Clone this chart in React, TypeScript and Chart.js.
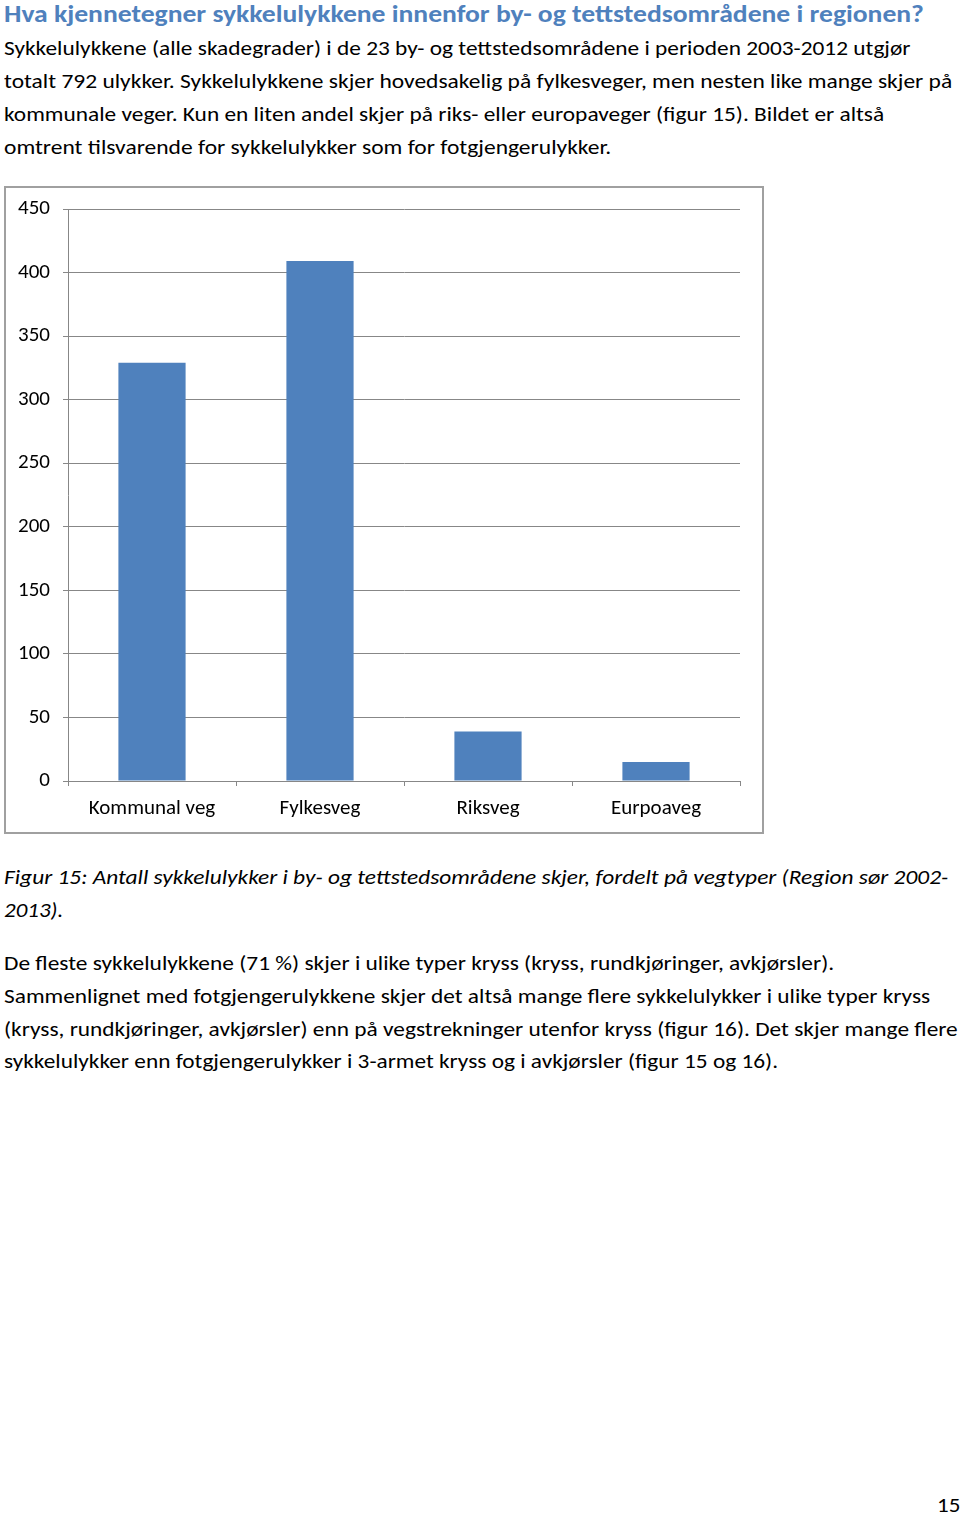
import React, { useEffect, useLayoutEffect, useRef, useState } from "react";
import { Chart, registerables } from "chart.js";

Chart.register(...registerables);

const categories = ["Kommunal veg", "Fylkesveg", "Riksveg", "Eurpoaveg"];
const accidents = [329, 409, 39, 15];
const yMax = 450;
const yStep = 50;

const heading = "Hva kjennetegner sykkelulykkene innenfor by- og tettstedsområdene i regionen?";
const introLines = [
  "Sykkelulykkene (alle skadegrader) i de 23 by- og tettstedsområdene i perioden 2003-2012 utgjør",
  "totalt 792 ulykker. Sykkelulykkene skjer hovedsakelig på fylkesveger, men nesten like mange skjer på",
  "kommunale veger. Kun en liten andel skjer på riks- eller europaveger (figur 15). Bildet er altså",
  "omtrent tilsvarende for sykkelulykker som for fotgjengerulykker.",
];
const captionLines = [
  "Figur 15: Antall sykkelulykker i by- og tettstedsområdene skjer, fordelt på vegtyper (Region sør 2002-",
  "2013).",
];
const paraLines = [
  "De fleste sykkelulykkene (71 %) skjer i ulike typer kryss (kryss, rundkjøringer, avkjørsler).",
  "Sammenlignet med fotgjengerulykkene skjer det altså mange flere sykkelulykker i ulike typer kryss",
  "(kryss, rundkjøringer, avkjørsler) enn på vegstrekninger utenfor kryss (figur 16). Det skjer mange flere",
  "sykkelulykker enn fotgjengerulykker i 3-armet kryss og i avkjørsler (figur 15 og 16).",
];
const pageNumber = "15";

const FONT = "Carlito, Lato, 'Liberation Sans', sans-serif";
const BLUE = "#4F81BD";
const GRID = "#878787";

type LineProps = {
  text: string;
  left: number;
  right: number;
  center: number;
  size: number;
  bold?: boolean;
  italic?: boolean;
  color?: string;
};

function FitLine({ text, left, right, center, size, bold, italic, color }: LineProps) {
  const ref = useRef<HTMLSpanElement>(null);
  const [sx, setSx] = useState(1);
  useLayoutEffect(() => {
    const el = ref.current;
    if (!el) return;
    const w = el.offsetWidth;
    if (w > 0) setSx((right - left) / w);
  }, [text, left, right, size]);
  const lh = 30;
  return (
    <span
      ref={ref}
      style={{
        position: "absolute",
        left,
        top: center - lh / 2,
        height: lh,
        lineHeight: lh + "px",
        fontSize: size,
        fontWeight: bold ? 700 : 400,
        fontStyle: italic ? "italic" : "normal",
        color: color || "#000",
        whiteSpace: "nowrap",
        display: "inline-block",
        transformOrigin: "0 50%",
        transform: `scaleX(${sx})`,
      }}
    >
      {text}
    </span>
  );
}

function BarChart() {
  const ref = useRef<HTMLCanvasElement>(null);
  useEffect(() => {
    if (!ref.current) return;
    const chart = new Chart(ref.current, {
      type: "bar",
      data: {
        labels: categories,
        datasets: [
          {
            data: accidents,
            backgroundColor: BLUE,
            borderWidth: 0,
            barPercentage: 0.4,
            categoryPercentage: 1,
          },
        ],
      },
      options: {
        animation: false,
        responsive: false,
        events: [],
        layout: { padding: { top: 23, right: 24, left: 0, bottom: 0 } },
        plugins: { legend: { display: false }, tooltip: { enabled: false } },
        scales: {
          x: {
            grid: { drawOnChartArea: false, offset: true, tickLength: 5, color: GRID },
            border: { color: GRID, width: 1 },
            ticks: { font: { family: FONT, size: 21 }, color: "#000", padding: 10, maxRotation: 0 },
            afterFit: (s: any) => {
              s.height = 53;
              s.paddingLeft = 0;
              s.paddingRight = 0;
            },
          },
          y: {
            min: 0,
            max: yMax,
            ticks: { stepSize: yStep, font: { family: FONT, size: 21 }, color: "#000", padding: 13 },
            grid: { color: GRID, tickLength: 5 },
            border: { color: GRID, width: 1 },
            afterFit: (s: any) => {
              s.width = 64;
              s.paddingTop = 0;
              s.paddingBottom = 0;
            },
          },
        },
      },
    });
    return () => chart.destroy();
  }, []);
  return (
    <canvas
      ref={ref}
      width={760}
      height={648}
      style={{ position: "absolute", left: 4, top: 186, width: 760, height: 648 }}
    />
  );
}

export default function App() {
  const introCenters = [48, 81, 114, 147];
  const introRights = [910, 952, 884, 611];
  const capCenters = [877, 910];
  const capRights = [948, 63];
  const paraCenters = [963, 996, 1029, 1061];
  const paraRights = [834, 930, 958, 778];
  return (
    <div
      style={{
        position: "absolute",
        left: 0,
        top: 0,
        width: 960,
        height: 1515,
        background: "#fff",
        fontFamily: FONT,
        overflow: "hidden",
      }}
    >
      <FitLine text={heading} left={4} right={924} center={14} size={24} bold color={BLUE} />
      {introLines.map((t, i) => (
        <FitLine key={"i" + i} text={t} left={4} right={introRights[i]} center={introCenters[i]} size={21} />
      ))}
      <div
        style={{
          position: "absolute",
          left: 4,
          top: 186,
          width: 760,
          height: 648,
          boxSizing: "border-box",
          border: "2px solid #a0a0a0",
        }}
      />
      <BarChart />
      {captionLines.map((t, i) => (
        <FitLine key={"c" + i} text={t} left={4} right={capRights[i]} center={capCenters[i]} size={21} italic />
      ))}
      {paraLines.map((t, i) => (
        <FitLine key={"p" + i} text={t} left={4} right={paraRights[i]} center={paraCenters[i]} size={21} />
      ))}
      <FitLine text={pageNumber} left={937} right={960} center={1505} size={21} />
    </div>
  );
}
